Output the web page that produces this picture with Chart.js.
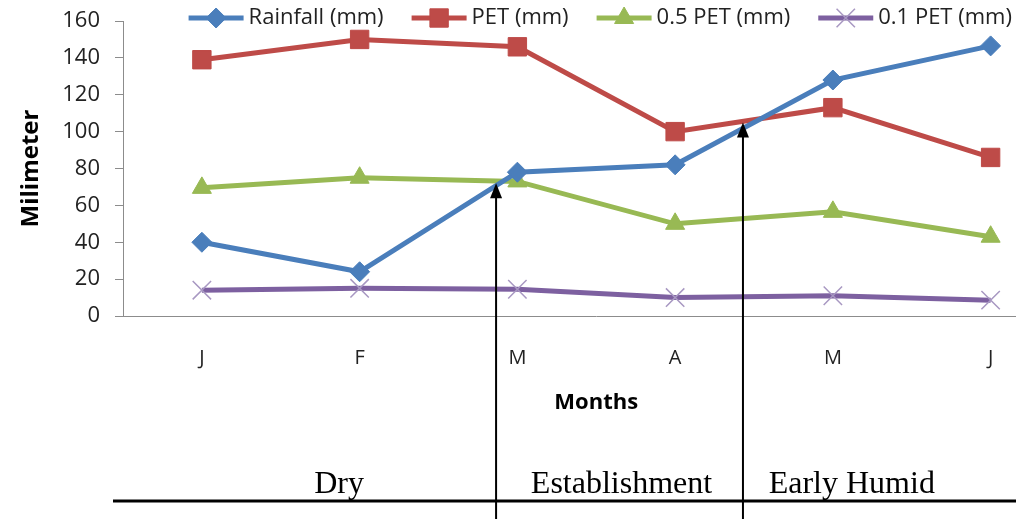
<!DOCTYPE html>
<html>
<head>
<meta charset="utf-8">
<script src="https://cdn.jsdelivr.net/npm/chart.js@4.4.0/dist/chart.umd.min.js"></script>
<style>
	html, body { margin: 0; padding: 0; background: #fff; overflow: hidden; }
	#wrap { position: relative; width: 1084px; height: 519px; }
</style>
</head>
<body>
<div id="wrap"><canvas id="diagram" width="1084" height="519"></canvas></div>
<script>
const months = ['J', 'F', 'M', 'A', 'M', 'J'];
const rainfall = [40, 24, 78, 82, 128, 146.5];
const pet = [139, 150, 146, 100, 113, 86];
const halfPet = [69.5, 75, 73, 50, 56.5, 43];
const tenthPet = [14, 15, 14.5, 10, 11, 8.6];

const yMin = 0;
const yMax = 160;
const yStep = 20;

// season labels under the chart, x given in month index units
const seasons = ['Dry', 'Establishment', 'Early Humid'];
const seasonPos = [0.87, 2.66, 4.12];

// arrows marking the crossing points (month index, value at tip)
const arrowX = [1.865, 3.43];
const arrowY = [72, 105];

const seriesColors = ['#4A7EBB', '#BE4B48', '#98B954', '#7D60A0'];

Chart.defaults.font.family = "'Open Sans', sans-serif";
Chart.defaults.color = '#222';

const customLegend = {
	id: 'customLegend',
	afterDraw(chart) {
		const ctx = chart.ctx;
		const area = chart.chartArea;
		const lineLen = 55;
		const gapText = 5;
		const gapItem = 28;
		ctx.save();
		ctx.font = "22px 'Open Sans', sans-serif";
		const widths = chart.data.datasets.map(ds => lineLen + gapText + ctx.measureText(ds.label).width);
		const total = widths.reduce((a, b) => a + b, 0) + gapItem * (widths.length - 1);
		let x = (area.left + area.right) / 2 - total / 2 + 4;
		const y = 18;
		chart.data.datasets.forEach((ds, i) => {
			ctx.strokeStyle = ds.borderColor;
			ctx.lineWidth = ds.borderWidth;
			ctx.beginPath();
			ctx.moveTo(x, y);
			ctx.lineTo(x + lineLen, y);
			ctx.stroke();
			ctx.fillStyle = ds.pointBackgroundColor;
			ctx.strokeStyle = ds.pointBorderColor;
			ctx.lineWidth = ds.pointBorderWidth;
			Chart.helpers.drawPoint(ctx, {
				pointStyle: ds.pointStyle,
				radius: ds.pointRadius,
				rotation: 0,
				borderWidth: ds.pointBorderWidth
			}, x + lineLen / 2, y);
			ctx.fillStyle = '#222';
			ctx.textBaseline = 'middle';
			ctx.textAlign = 'left';
			ctx.font = "22px 'Open Sans', sans-serif";
			ctx.fillText(ds.label, x + lineLen + gapText, y);
			x += widths[i] + gapItem;
		});
		ctx.restore();
	}
};

const annotations = {
	id: 'annotations',
	afterDraw(chart) {
		const ctx = chart.ctx;
		const xs = chart.scales.x;
		const ys = chart.scales.y;
		const h = chart.height;
		ctx.save();
		ctx.strokeStyle = '#000';
		ctx.fillStyle = '#000';

		// arrows
		arrowX.forEach((ax, i) => {
			const px = xs.getPixelForValue(ax);
			const py = ys.getPixelForValue(arrowY[i]);
			ctx.lineWidth = 2;
			ctx.beginPath();
			ctx.moveTo(px, py + 10);
			ctx.lineTo(px, h);
			ctx.stroke();
			ctx.beginPath();
			ctx.moveTo(px, py);
			ctx.lineTo(px - 6, py + 15);
			ctx.lineTo(px + 6, py + 15);
			ctx.closePath();
			ctx.fill();
		});

		// season line and labels
		ctx.lineWidth = 3;
		ctx.beginPath();
		ctx.moveTo(chart.chartArea.left - 10, h - 18);
		ctx.lineTo(chart.width, h - 18);
		ctx.stroke();

		ctx.font = "32px 'Liberation Serif', 'Times New Roman', serif";
		ctx.textAlign = 'center';
		ctx.textBaseline = 'alphabetic';
		seasons.forEach((s, i) => {
			ctx.fillText(s, xs.getPixelForValue(seasonPos[i]), h - 26);
		});
		ctx.restore();
	}
};

function makeSet(label, data, color, style, radius) {
	return {
		label: label,
		data: data,
		borderColor: color,
		borderWidth: 5,
		pointStyle: style,
		pointRadius: radius,
		pointHoverRadius: radius,
		pointBackgroundColor: color,
		pointBorderColor: color,
		pointBorderWidth: 1,
		tension: 0,
		fill: false
	};
}

const datasets = [
	makeSet('Rainfall (mm)', rainfall, seriesColors[0], 'rectRot', 10),
	makeSet('PET (mm)', pet, seriesColors[1], 'rect', 13),
	makeSet('0.5 PET (mm)', halfPet, seriesColors[2], 'triangle', 11),
	makeSet('0.1 PET (mm)', tenthPet, seriesColors[3], 'crossRot', 13)
];
datasets[3].pointBorderColor = '#A898C2';
datasets[3].pointBorderWidth = 1.5;

const chart = new Chart(document.getElementById('diagram'), {
	type: 'line',
	data: { labels: months, datasets: datasets },
	options: {
		responsive: false,
		animation: false,
		layout: { padding: { top: 21, right: 0, bottom: 0, left: 0 } },
		plugins: {
			legend: { display: false },
			tooltip: { enabled: false }
		},
		scales: {
			x: {
				offset: true,
				grid: { display: false, drawTicks: false },
				border: { display: true, color: '#8c8c8c', width: 1 },
				ticks: { font: { size: 20 }, padding: 30, color: '#222' },
				title: {
					display: true,
					text: 'Months',
					font: { size: 22, weight: 'bold' },
					color: '#000',
					padding: { top: 0, bottom: 103 }
				},
				afterFit(scale) { scale.height = 203; }
			},
			y: {
				min: yMin,
				max: yMax,
				ticks: { stepSize: yStep, font: { size: 22 }, padding: 15, color: '#222' },
				grid: { drawOnChartArea: false, drawTicks: true, tickLength: 8, color: '#8c8c8c' },
				border: { display: true, color: '#8c8c8c', width: 1 },
				title: {
					display: true,
					text: 'Milimeter',
					font: { size: 24, weight: 'bold' },
					color: '#000',
					padding: { top: 17, bottom: 0 }
				},
				afterFit(scale) {
					scale.width = 123;
					scale.paddingTop = 0;
					scale.paddingBottom = 0;
				}
			}
		}
	},
	plugins: [customLegend, annotations]
});
</script>
</body>
</html>
